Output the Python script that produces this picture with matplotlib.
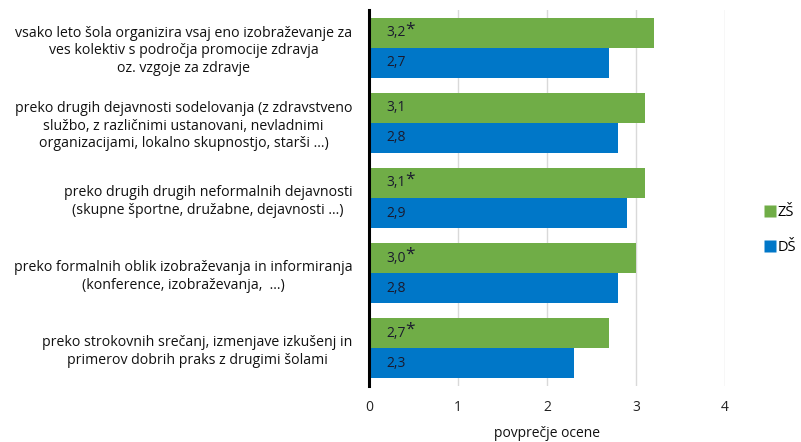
import matplotlib
matplotlib.use("Agg")
import matplotlib.pyplot as plt
from matplotlib.lines import Line2D
import numpy as np

plt.rcParams['font.family'] = ['Open Sans', 'DejaVu Sans']

categories = [
    "vsako leto šola organizira vsaj eno izobraževanje za\nves kolektiv s področja promocije zdravja\noz. vzgoje za zdravje",
    "preko drugih dejavnosti sodelovanja (z zdravstveno\nslužbo, z različnimi ustanovani, nevladnimi\norganizacijami, lokalno skupnostjo, starši ...)",
    "preko drugih drugih neformalnih dejavnosti\n(skupne športne, družabne, dejavnosti ...)",
    "preko formalnih oblik izobraževanja in informiranja\n(konference, izobraževanja,  ...)",
    "preko strokovnih srečanj, izmenjave izkušenj in\nprimerov dobrih praks z drugimi šolami",
]
zs = [3.2, 3.1, 3.1, 3.0, 2.7]
ds = [2.7, 2.8, 2.9, 2.8, 2.3]
zs_star = [True, False, True, True, True]
series_names = ["ZŠ", "DŠ"]
xticks = [0, 1, 2, 3, 4]
xlabel = "povprečje ocene"

green = "#70AD47"
blue = "#0077C8"
txt = "#1a1a2e"

fig = plt.figure(figsize=(8.01, 4.42), dpi=100)
ax = fig.add_axes([369/801, 1-386/442, (725-369)/801, (386-10)/442])

y = np.arange(len(categories))
h = 0.4
ax.barh(y - h/2, zs, height=h, color=green, zorder=2)
ax.barh(y + h/2, ds, height=h, color=blue, zorder=2)

for i in range(len(categories)):
    s = f"{zs[i]:.1f}".replace(".", ",")
    t = ax.text(0.2, y[i] - h/2, s, va='center', ha='left', color=txt, fontsize=10, zorder=3)
    if zs_star[i]:
        ax.annotate("*", xy=(0.97, 0.72), xycoords=t, va='center', ha='left',
                    color=txt, fontsize=12.5, zorder=3)
    s2 = f"{ds[i]:.1f}".replace(".", ",")
    ax.text(0.2, y[i] + h/2, s2, va='center', ha='left', color=txt, fontsize=10, zorder=3)

ax.set_ylim(len(categories) - 0.5, -0.5)
ax.set_xlim(0, 4)
ax.set_xticks(xticks)
ax.set_xticklabels([str(v) for v in xticks], fontsize=10, color="#222222")
ax.set_yticks(y)
ax.set_yticklabels(categories, fontsize=10.2, multialignment='center', color="#111111",
                   linespacing=1.25)
ax.tick_params(axis='y', length=0, pad=12)
ax.tick_params(axis='x', length=0, pad=10)
ax.grid(axis='x', color="#d9d9d9", linewidth=1, zorder=0)
ax.set_axisbelow(True)
for sp in ['top', 'right', 'bottom']:
    ax.spines[sp].set_visible(False)
ax.spines['left'].set_linewidth(2.2)
ax.spines['left'].set_color('black')
ax.set_xlabel(xlabel, fontsize=10, color="#111111", labelpad=8)

handles = [Line2D([], [], marker='s', color='none', markerfacecolor=green, markeredgecolor='none', markersize=8),
           Line2D([], [], marker='s', color='none', markerfacecolor=blue, markeredgecolor='none', markersize=8)]
fig.legend(handles, series_names, loc='center left', bbox_to_anchor=(766/801, 1-230/442),
           frameon=False, handlelength=0.6, handletextpad=0.2, labelspacing=1.35, fontsize=10.5,
           borderaxespad=0, borderpad=0)

fig.savefig("out.png", dpi=100)
